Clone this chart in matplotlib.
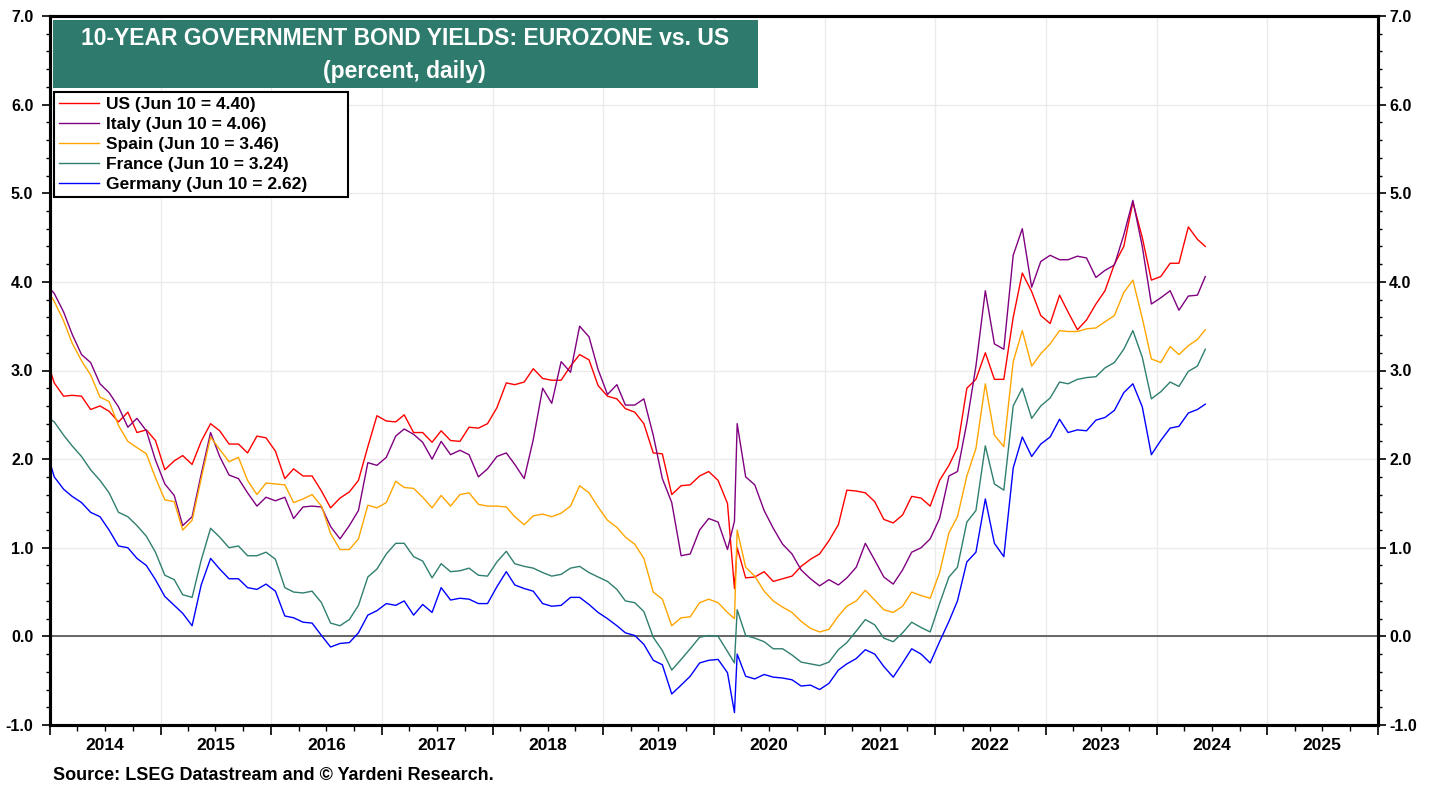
import pandas as pd
import matplotlib
matplotlib.use('Agg')
import matplotlib.pyplot as plt
import matplotlib.dates as mdates
from matplotlib.ticker import MultipleLocator, FormatStrFormatter, FuncFormatter, NullFormatter
from matplotlib.patches import Rectangle

plt.rcParams['font.family'] = ['Liberation Sans', 'DejaVu Sans']
plt.rcParams['font.weight'] = 'bold'

# observation dates: first day, mid-month readings, two March 2020 readings, last day
mid = pd.date_range('2014-01-01', '2024-05-01', freq='MS') + pd.Timedelta(days=14)
mid = mid[mid != pd.Timestamp('2020-03-15')]
dates = (pd.DatetimeIndex(['2014-01-02']).append(mid)
         .append(pd.DatetimeIndex(['2020-03-09', '2020-03-18', '2024-06-10']))
         .sort_values())

# 10-year yields, percent (2020 row has two March readings)
us = [3.00,
      2.86, 2.71, 2.72, 2.71, 2.56, 2.60, 2.54, 2.42, 2.53, 2.30, 2.33, 2.21,
      1.88, 1.98, 2.04, 1.94, 2.20, 2.40, 2.32, 2.17, 2.17, 2.07, 2.26, 2.24,
      2.09, 1.78, 1.89, 1.81, 1.81, 1.64, 1.45, 1.56, 1.63, 1.76, 2.14, 2.49,
      2.43, 2.42, 2.50, 2.30, 2.30, 2.19, 2.32, 2.21, 2.20, 2.36, 2.35, 2.40,
      2.58, 2.86, 2.84, 2.87, 3.02, 2.91, 2.89, 2.89, 3.05, 3.18, 3.12, 2.83,
      2.71, 2.68, 2.57, 2.53, 2.40, 2.07, 2.06, 1.60, 1.70, 1.71, 1.81, 1.86,
      1.76, 1.50, 0.54, 1.00, 0.66, 0.67, 0.73, 0.62, 0.65, 0.68, 0.79, 0.87, 0.93,
      1.08, 1.26, 1.65, 1.64, 1.62, 1.52, 1.32, 1.28, 1.37, 1.58, 1.56, 1.47,
      1.76, 1.93, 2.13, 2.80, 2.90, 3.20, 2.90, 2.90, 3.60, 4.10, 3.89, 3.62,
      3.53, 3.85, 3.66, 3.46, 3.57, 3.75, 3.90, 4.20, 4.40, 4.90, 4.50, 4.02,
      4.06, 4.21, 4.21, 4.62, 4.48, 4.40]

italy = [3.92,
         3.87, 3.66, 3.41, 3.18, 3.09, 2.85, 2.75, 2.59, 2.36, 2.46, 2.32, 1.99,
         1.72, 1.59, 1.25, 1.35, 1.83, 2.30, 2.03, 1.82, 1.78, 1.62, 1.47, 1.57,
         1.53, 1.57, 1.33, 1.46, 1.47, 1.46, 1.24, 1.10, 1.25, 1.42, 1.96, 1.93,
         2.02, 2.26, 2.34, 2.28, 2.19, 2.00, 2.20, 2.05, 2.10, 2.05, 1.80, 1.89,
         2.03, 2.07, 1.94, 1.78, 2.22, 2.80, 2.63, 3.10, 2.98, 3.50, 3.38, 3.01,
         2.73, 2.84, 2.61, 2.61, 2.68, 2.27, 1.78, 1.51, 0.91, 0.93, 1.20, 1.33,
         1.29, 0.98, 1.30, 2.40, 1.80, 1.71, 1.42, 1.22, 1.04, 0.93, 0.75, 0.65, 0.57,
         0.64, 0.58, 0.66, 0.78, 1.05, 0.86, 0.67, 0.59, 0.75, 0.95, 1.00, 1.10,
         1.33, 1.81, 1.86, 2.41, 3.05, 3.90, 3.30, 3.24, 4.30, 4.60, 3.94, 4.23,
         4.30, 4.25, 4.25, 4.29, 4.27, 4.05, 4.13, 4.19, 4.53, 4.92, 4.40, 3.75,
         3.82, 3.90, 3.68, 3.84, 3.85, 4.06]

spain = [3.85,
         3.78, 3.56, 3.31, 3.11, 2.95, 2.70, 2.65, 2.38, 2.20, 2.13, 2.06, 1.79,
         1.54, 1.52, 1.20, 1.31, 1.78, 2.25, 2.11, 1.97, 2.02, 1.76, 1.60, 1.73,
         1.72, 1.71, 1.51, 1.55, 1.60, 1.47, 1.16, 0.98, 0.98, 1.10, 1.48, 1.45,
         1.51, 1.75, 1.68, 1.67, 1.57, 1.45, 1.59, 1.47, 1.60, 1.62, 1.49, 1.47,
         1.47, 1.46, 1.35, 1.26, 1.36, 1.38, 1.35, 1.39, 1.47, 1.70, 1.62, 1.46,
         1.31, 1.23, 1.12, 1.04, 0.88, 0.50, 0.42, 0.12, 0.21, 0.22, 0.38, 0.42,
         0.38, 0.27, 0.20, 1.20, 0.78, 0.68, 0.51, 0.40, 0.33, 0.27, 0.17, 0.09, 0.05,
         0.08, 0.23, 0.34, 0.40, 0.52, 0.41, 0.30, 0.27, 0.34, 0.50, 0.46, 0.43,
         0.72, 1.17, 1.35, 1.81, 2.12, 2.85, 2.27, 2.14, 3.10, 3.45, 3.05, 3.19,
         3.30, 3.45, 3.44, 3.44, 3.47, 3.48, 3.55, 3.62, 3.88, 4.02, 3.59, 3.13,
         3.09, 3.27, 3.18, 3.28, 3.35, 3.46]

france = [2.45,
          2.42, 2.27, 2.15, 2.03, 1.88, 1.76, 1.62, 1.40, 1.35, 1.25, 1.13, 0.95,
          0.69, 0.64, 0.47, 0.44, 0.86, 1.22, 1.12, 1.00, 1.02, 0.91, 0.91, 0.95,
          0.87, 0.55, 0.50, 0.49, 0.51, 0.38, 0.15, 0.12, 0.19, 0.35, 0.67, 0.76,
          0.93, 1.05, 1.05, 0.90, 0.85, 0.66, 0.82, 0.73, 0.74, 0.77, 0.69, 0.68,
          0.84, 0.96, 0.82, 0.79, 0.77, 0.72, 0.68, 0.70, 0.77, 0.79, 0.72, 0.67,
          0.62, 0.53, 0.40, 0.38, 0.28, -0.01, -0.16, -0.38, -0.26, -0.14, -0.01, 0.01,
          0.00, -0.17, -0.30, 0.30, 0.01, -0.02, -0.06, -0.14, -0.14, -0.21, -0.29, -0.31, -0.33,
          -0.29, -0.15, -0.07, 0.06, 0.19, 0.13, -0.02, -0.06, 0.04, 0.16, 0.10, 0.05,
          0.37, 0.67, 0.78, 1.29, 1.42, 2.15, 1.72, 1.65, 2.60, 2.80, 2.46, 2.60,
          2.69, 2.87, 2.85, 2.90, 2.92, 2.93, 3.03, 3.09, 3.24, 3.45, 3.15, 2.68,
          2.76, 2.87, 2.82, 2.99, 3.05, 3.24]

germany = [1.95,
           1.80, 1.66, 1.58, 1.51, 1.40, 1.35, 1.20, 1.02, 1.00, 0.88, 0.80, 0.64,
           0.45, 0.35, 0.26, 0.12, 0.58, 0.88, 0.76, 0.65, 0.65, 0.55, 0.53, 0.59,
           0.51, 0.23, 0.21, 0.16, 0.15, 0.01, -0.12, -0.08, -0.07, 0.04, 0.24, 0.29,
           0.37, 0.35, 0.40, 0.24, 0.36, 0.27, 0.55, 0.41, 0.43, 0.42, 0.37, 0.37,
           0.56, 0.73, 0.58, 0.54, 0.51, 0.37, 0.34, 0.35, 0.44, 0.44, 0.36, 0.27,
           0.20, 0.12, 0.04, 0.01, -0.09, -0.27, -0.32, -0.65, -0.55, -0.45, -0.30, -0.27,
           -0.26, -0.41, -0.86, -0.20, -0.45, -0.48, -0.43, -0.46, -0.47, -0.49, -0.56, -0.55, -0.60,
           -0.53, -0.38, -0.31, -0.25, -0.15, -0.20, -0.34, -0.46, -0.30, -0.14, -0.20, -0.30,
           -0.06, 0.17, 0.40, 0.84, 0.95, 1.55, 1.05, 0.90, 1.90, 2.25, 2.03, 2.17,
           2.25, 2.45, 2.30, 2.33, 2.32, 2.44, 2.47, 2.55, 2.75, 2.85, 2.59, 2.05,
           2.21, 2.35, 2.37, 2.52, 2.56, 2.62]

names = ['US', 'Italy', 'Spain', 'France', 'Germany']
series = [us, italy, spain, france, germany]
colors = ['#ff0000', '#800080', '#ffa500', '#2f7f6f', '#0000ff']

fig = plt.figure(figsize=(14.39, 7.87), dpi=100)
ax = fig.add_axes([50 / 1439, 1 - 725 / 787, 1328 / 1439, 709 / 787])

ax.axhline(0, color='#5a5a5a', lw=1.3, zorder=1.5)
handles = []
for name, vals, c in zip(names, series, colors):
    h, = ax.plot(dates, vals, color=c, lw=1.0, zorder=2,
                 label='%s (Jun 10 = %.2f)' % (name, vals[-1]))
    handles.append(h)

ax.set_xlim(pd.Timestamp('2014-01-01'), pd.Timestamp('2026-01-01'))
ax.set_ylim(-1, 7)

# x axis: long ticks at year starts, quarter ticks, year label mid-year
ax.xaxis.set_major_locator(mdates.YearLocator())
ax.xaxis.set_major_formatter(NullFormatter())
ax.xaxis.set_minor_locator(mdates.MonthLocator(bymonth=[4, 7, 10]))
ax.xaxis.set_minor_formatter(FuncFormatter(
    lambda v, p: str(mdates.num2date(v).year) if mdates.num2date(v).month == 7 else ''))
ax.tick_params(axis='x', which='major', length=7, width=1.2)
ax.tick_params(axis='x', which='minor', length=4, width=1.0, labelsize=12.5, pad=5)

ax.yaxis.set_major_locator(MultipleLocator(1))
ax.yaxis.set_minor_locator(MultipleLocator(0.2))
ax.yaxis.set_major_formatter(FormatStrFormatter('%.1f'))
ax.tick_params(axis='y', which='major', length=6, width=1.2, labelsize=11.5, pad=6)
ax.tick_params(axis='y', which='minor', length=3, width=1.0)

ax2 = ax.twinx()
ax2.set_ylim(-1, 7)
ax2.yaxis.set_major_locator(MultipleLocator(1))
ax2.yaxis.set_minor_locator(MultipleLocator(0.2))
ax2.yaxis.set_major_formatter(FormatStrFormatter('%.1f'))
ax2.tick_params(axis='y', which='major', length=6, width=1.2, labelsize=11.5, pad=2)
ax2.tick_params(axis='y', which='minor', length=3, width=1.0)

ax.grid(True, which='major', color='#ebebeb', lw=1.0)
ax.set_axisbelow(True)
for a in (ax, ax2):
    for s in a.spines.values():
        s.set_linewidth(2.2)

# title box
ax2.add_patch(Rectangle((0.0023, 0.898), 0.531, 0.096, transform=ax.transAxes,
                        facecolor='#2e7b6d', edgecolor='none', zorder=5))
ax2.text(0.267, 0.968, '10-YEAR GOVERNMENT BOND YIELDS: EUROZONE vs. US',
         transform=ax.transAxes, ha='center', va='center', color='white',
         fontsize=16.5, fontweight='bold', zorder=6)
ax2.text(0.267, 0.922, '(percent, daily)', transform=ax.transAxes,
         ha='center', va='center', color='white', fontsize=16.5, fontweight='bold', zorder=6)

leg = ax2.legend(handles=handles, loc='upper left',
                 bbox_to_anchor=(0.003, 0.74, 0.2214, 0.153),
                 bbox_transform=ax.transAxes, mode='expand', frameon=True, fancybox=False,
                 edgecolor='black', framealpha=1, prop={'weight': 'bold', 'size': 12.5},
                 handlelength=2.3, handletextpad=0.4, labelspacing=0.28,
                 borderpad=0.3, borderaxespad=0)
leg.get_frame().set_linewidth(1.5)

fig.text(53 / 1439, 1 - 775 / 787, 'Source: LSEG Datastream and \u00a9 Yardeni Research.',
         fontsize=13, fontweight='bold', va='center', ha='left')

fig.savefig('out.png', dpi=100)
